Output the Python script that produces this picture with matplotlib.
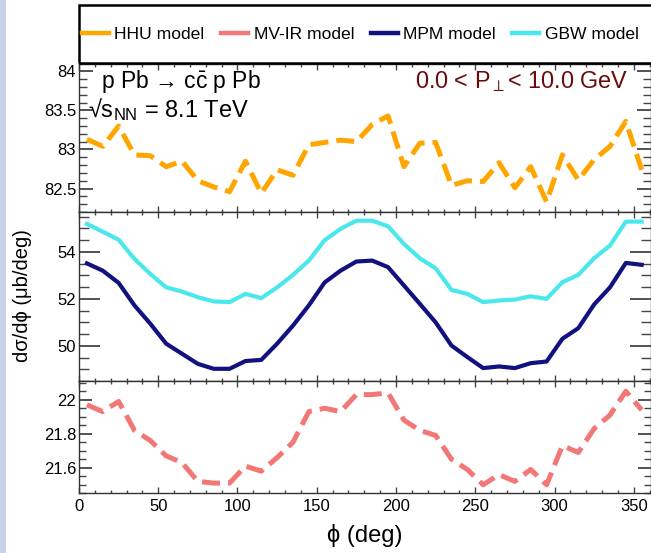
import matplotlib
matplotlib.use("Agg")
import matplotlib.pyplot as plt
from matplotlib.lines import Line2D
from matplotlib.patches import Rectangle
from matplotlib.ticker import MultipleLocator

plt.rcParams['font.family'] = ['Liberation Sans', 'DejaVu Sans']
plt.rcParams['mathtext.fontset'] = 'custom'
plt.rcParams['mathtext.rm'] = 'Liberation Sans'
plt.rcParams['mathtext.it'] = 'Liberation Sans:italic'
plt.rcParams['mathtext.bf'] = 'Liberation Sans:bold'

# bin centres (deg)
phi = [5, 15, 25, 35, 45, 55, 65, 75, 85, 95, 105, 115, 125, 135, 145, 155, 165, 175,
       185, 195, 205, 215, 225, 235, 245, 255, 265, 275, 285, 295, 305, 315, 325, 335, 345, 355]

hhu = [83.13, 83.04, 83.30, 82.93, 82.92, 82.78, 82.85, 82.60, 82.52, 82.46, 82.85, 82.44,
       82.74, 82.67, 83.06, 83.09, 83.12, 83.10, 83.32, 83.43, 82.78, 83.08, 83.09, 82.54,
       82.60, 82.59, 82.83, 82.51, 82.78, 82.33, 82.93, 82.61, 82.87, 83.04, 83.36, 82.74]

mpm = [53.51, 53.20, 52.68, 51.72, 50.94, 50.09, 49.66, 49.23, 49.02, 49.02, 49.35, 49.40,
       50.09, 50.86, 51.72, 52.70, 53.20, 53.59, 53.63, 53.35, 52.57, 51.79, 51.00, 50.01,
       49.52, 49.05, 49.12, 49.05, 49.26, 49.33, 50.30, 50.75, 51.76, 52.49, 53.53, 53.45]

gbw = [55.19, 54.86, 54.52, 53.70, 53.06, 52.49, 52.31, 52.07, 51.89, 51.86, 52.21, 52.03,
       52.49, 53.02, 53.63, 54.50, 54.98, 55.33, 55.33, 55.09, 54.34, 53.73, 53.30, 52.38,
       52.21, 51.86, 51.93, 51.97, 52.11, 52.00, 52.71, 53.02, 53.73, 54.27, 55.29, 55.29]

mvir = [21.97, 21.93, 21.99, 21.82, 21.76, 21.67, 21.63, 21.52, 21.51, 21.51, 21.61, 21.58,
        21.66, 21.75, 21.93, 21.95, 21.93, 22.03, 22.03, 22.04, 21.88, 21.82, 21.79, 21.65,
        21.59, 21.50, 21.56, 21.52, 21.59, 21.50, 21.73, 21.69, 21.83, 21.91, 22.05, 21.94]

models = ['HHU model', 'MV-IR model', 'MPM model', 'GBW model']
colors = ['#ffa500', '#f27777', '#11117f', '#4ae8ec']

W, H = 651, 553
fig = plt.figure(figsize=(W / 100, H / 100), dpi=100)


def box(top, bottom, left=79, right=651.5):
    return [left / W, 1 - bottom / H, (right - left) / W, (bottom - top) / H]


ax_top = fig.add_axes(box(63.5, 212))
ax_mid = fig.add_axes(box(212, 381))
ax_bot = fig.add_axes(box(381, 493.3))

dash = (0, (3.6, 1.6))
ax_top.plot(phi, hhu, color=colors[0], lw=3.6, linestyle=dash)
ax_mid.plot(phi, gbw, color=colors[3], lw=3.0)
ax_mid.plot(phi, mpm, color=colors[2], lw=3.0)
ax_bot.plot(phi, mvir, color=colors[1], lw=3.6, linestyle=dash)

ax_top.set_ylim(82.2, 84.1)
ax_mid.set_ylim(48.5, 55.7)
ax_bot.set_ylim(21.45, 22.11)

ax_top.yaxis.set_major_locator(MultipleLocator(0.5))
ax_top.yaxis.set_minor_locator(MultipleLocator(0.1))
ax_mid.yaxis.set_major_locator(MultipleLocator(2))
ax_mid.yaxis.set_minor_locator(MultipleLocator(0.5))
ax_bot.yaxis.set_major_locator(MultipleLocator(0.2))
ax_bot.yaxis.set_minor_locator(MultipleLocator(0.05))

# y tick lengths (pt), differ per pad like in ROOT
ylen = {ax_top: (10, 5.8), ax_mid: (15, 7.2), ax_bot: (9.4, 5)}

for ax in [ax_top, ax_mid, ax_bot]:
    ax.set_xlim(0, (651.5 - 79) / 1.585)
    ax.xaxis.set_major_locator(MultipleLocator(50))
    ax.xaxis.set_minor_locator(MultipleLocator(10))
    for s in ax.spines.values():
        s.set_color('#333333')
        s.set_linewidth(1.0)
    ax.tick_params(axis='both', which='both', direction='in', top=True, right=True,
                   colors='#444444', labelcolor='black', labelsize=12)
    ax.tick_params(axis='x', which='major', length=4, width=1)
    ax.tick_params(axis='x', which='minor', length=2.3, width=1)
    ax.tick_params(axis='y', which='major', length=ylen[ax][0], width=1.3, pad=2)
    ax.tick_params(axis='y', which='minor', length=ylen[ax][1], width=1.0)
    if ax is not ax_bot:
        ax.tick_params(axis='x', labelbottom=False)
    for t in ax.yaxis.get_major_ticks():
        t.tick2line.set_color('#999999')

ax_top.set_yticks([82.5, 83, 83.5, 84])
ax_top.set_yticklabels(['82.5', '83', '83.5', '84'])
ax_bot.set_yticks([21.6, 21.8, 22])
ax_bot.set_yticklabels(['21.6', '21.8', '22'])
ax_bot.tick_params(axis='x', pad=4)

ax_bot.set_xlabel('ϕ (deg)', fontsize=17, labelpad=7)
fig.text(23 / W, 1 - 296 / H, 'dσ/dϕ (μb/deg)', rotation=90, fontsize=14.5,
         ha='center', va='center')

# annotations
fig.text(101 / W, 1 - 88 / H, 'p Pb → c$\\bar{\\mathrm{c}}$ p Pb', fontsize=16.5,
         va='baseline')
fig.text(88 / W, 1 - 117 / H, '√s$_{\\mathrm{NN}}$ = 8.1 TeV', fontsize=17,
         va='baseline')
fig.text(415 / W, 1 - 88 / H, '0.0 < P$_{\\perp}$< 10.0 GeV', fontsize=16.8,
         va='baseline', color='#6b0a0a')

# legend box across the top
fig.add_artist(Rectangle((79 / W, 1 - 62.7 / H), 1.0, (62.7 - 5) / H,
                         transform=fig.transFigure, fill=False, ec='black', lw=1.8,
                         clip_on=False))
handles = [Line2D([], [], color=c, lw=3.2) for c in colors]
fig.legend(handles, models, ncol=4, loc='center left', frameon=False,
           bbox_to_anchor=(82 / W, 1 - 34 / H), fontsize=12.6, handlelength=1.55,
           handletextpad=0.3, columnspacing=0.95, borderpad=0, borderaxespad=0)

# window edge strip of the screenshot
fig.add_artist(Rectangle((0, 0), 6 / W, 1, transform=fig.transFigure,
                         color='#c9d4ec', lw=0))

fig.savefig('out.png', dpi=100)
